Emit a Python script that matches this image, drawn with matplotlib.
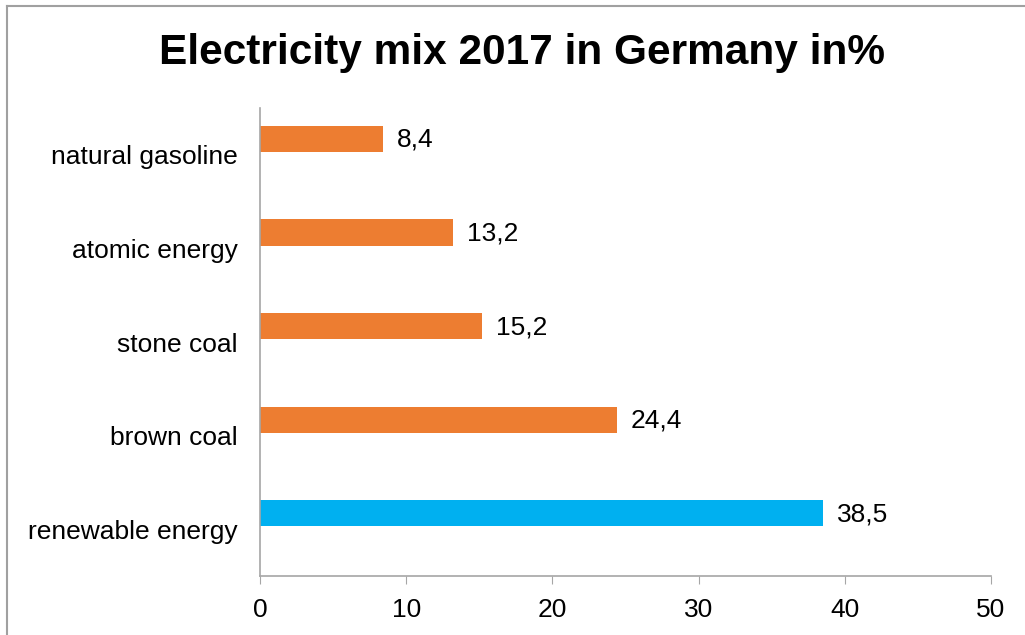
import matplotlib
matplotlib.use("Agg")
import matplotlib.pyplot as plt
from matplotlib.lines import Line2D

plt.rcParams['font.family'] = ['Liberation Sans', 'DejaVu Sans']

categories = ["renewable energy", "brown coal", "stone coal", "atomic energy", "natural gasoline"]
values = [38.5, 24.4, 15.2, 13.2, 8.4]
labels = ["38,5", "24,4", "15,2", "13,2", "8,4"]
colors = ["#00B0F0", "#ED7D31", "#ED7D31", "#ED7D31", "#ED7D31"]

fig = plt.figure(figsize=(10.25, 6.35), dpi=100)
ax = fig.add_axes([260/1025, 59/635, 731/1025, 468/635])

y = list(range(len(categories)))
# bars sit slightly above the category centre (Excel-style offset)
shift = 0.17
bar_y = [yi + shift for yi in y]
ax.barh(bar_y, values, height=0.28, color=colors)

for yi, v, lab in zip(bar_y, values, labels):
    ax.text(v + 0.95, yi - 0.01, lab, va='center', ha='left', fontsize=19, color='black')

ax.set_xlim(0, 50)
ax.set_ylim(-0.5, 4.5)
ax.set_xticks([0, 10, 20, 30, 40, 50])
ax.set_yticks(y)
ax.set_yticklabels(categories)
ax.tick_params(axis='x', length=5.5, color='#A6A6A6', labelsize=19, pad=10)
ax.tick_params(axis='y', length=0, labelsize=19, pad=16)

for s in ['top', 'right']:
    ax.spines[s].set_visible(False)
for s in ['left', 'bottom']:
    ax.spines[s].set_color('#A6A6A6')
    ax.spines[s].set_linewidth(1.2)

fig.text(522/1025, 1 - 53/635, "Electricity mix 2017 in Germany in%",
         ha='center', va='center', fontsize=30.5, fontweight='bold')

# outer border (only top and left visible in the crop)
fig.add_artist(Line2D([7/1025, 1], [1 - 6/635, 1 - 6/635], color='#A0A0A0', lw=1.5))
fig.add_artist(Line2D([7/1025, 7/1025], [0, 1 - 6/635], color='#A0A0A0', lw=1.5))

fig.savefig("out.png", dpi=100)
